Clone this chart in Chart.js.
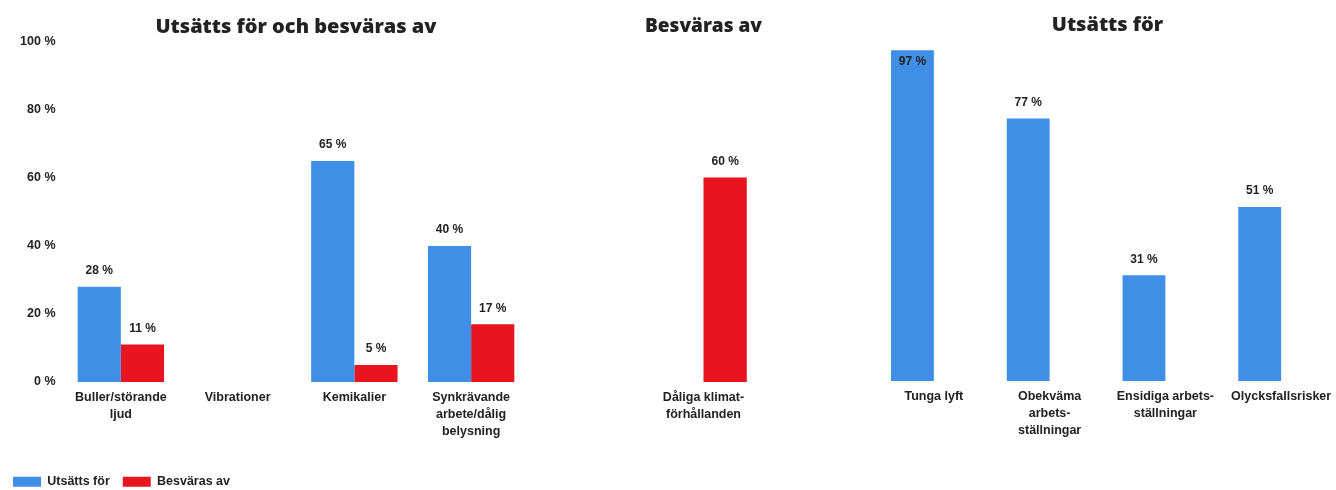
<!DOCTYPE html>
<html lang="sv">
<head>
<meta charset="utf-8">
<script src="https://cdn.jsdelivr.net/npm/chart.js@4"></script>
<style>
  html, body { margin: 0; padding: 0; background: #fff; overflow: hidden; }
  body { position: relative; width: 1336px; height: 490px; }
  canvas { position: absolute; }
  #panelBoth { left: 0; top: 0; }
  #panelBothered { left: 600px; top: -1px; }
  #panelExposed { left: 876px; top: -2px; }
</style>
</head>
<body>
<canvas id="panelBoth" width="592" height="498"></canvas>
<canvas id="panelBothered" width="208" height="490"></canvas>
<canvas id="panelExposed" width="463" height="490"></canvas>
<script>
// serier
const seriesNames = ["Utsätts för", "Besväras av"];
const seriesColors = ["#3f8fe6", "#e8141f"];

// vänster: utsätts för och besväras av
const bothLabels = [["Buller/störande", "ljud"], "Vibrationer", "Kemikalier", ["Synkrävande", "arbete/dålig", "belysning"]];
const bothExposed = [28, null, 65, 40];
const bothBothered = [11, null, 5, 17];

// mitten: bara besväras av
const botheredLabels = [["Dåliga klimat-", "förhållanden"]];
const botheredExposed = [null];
const botheredValues = [60];

// höger: bara utsätts för
const exposedLabels = ["Tunga lyft", ["Obekväma", "arbets-", "ställningar"], ["Ensidiga arbets-", "ställningar"], "Olycksfallsrisker"];
const exposedValues = [97, 77, 31, 51];
const exposedBothered = [null, null, null, null];

const yTicks = [0, 20, 40, 60, 80, 100];

const textColor = "#222";
const labelFont = { family: "'Liberation Sans', Arial, sans-serif", size: 12.5, weight: "bold" };

// skriver "xx %" ovanför varje stapel (inuti om den inte får plats)
const valueLabels = {
    id: 'valueLabels',
    afterDatasetsDraw(chart) {
        const ctx = chart.ctx;
        ctx.save();
        ctx.font = "bold 12px 'Liberation Sans', Arial, sans-serif";
        ctx.fillStyle = textColor;
        ctx.textAlign = 'center';
        ctx.textBaseline = 'middle';
        chart.data.datasets.forEach((ds, i) => {
            chart.getDatasetMeta(i).data.forEach((bar, j) => {
                const v = ds.data[j];
                if (v === null || v === undefined) return;
                let y = bar.y - 16;
                if (y - 7 < chart.chartArea.top) y = bar.y + 11;
                ctx.fillText(v + ' %', bar.x, y);
            });
        });
        ctx.restore();
    }
};

function makePanel(id, title, labels, exposed, bothered, opts) {
    const scales = {
        x: {
            grid: { display: false, drawTicks: false },
            border: { display: false },
            ticks: {
                color: textColor,
                font: Object.assign({ lineHeight: 1.35 }, labelFont),
                padding: 7,
                maxRotation: 0,
                autoSkip: false
            },
            afterFit: (scale) => { scale.height = opts.xHeight; }
        },
        y: {
            display: opts.yAxis,
            min: 0,
            max: 100,
            afterBuildTicks: (scale) => { scale.ticks = yTicks.map(v => ({ value: v })); },
            grid: { display: false, drawTicks: false },
            border: { display: false },
            ticks: {
                color: textColor,
                font: labelFont,
                padding: 7,
                callback: (v) => v + ' %'
            },
            afterFit: (scale) => { if (opts.yAxis) scale.width = 62.5; }
        }
    };
    if (opts.yAxis) {
        // tom axel till höger så att rubriken hamnar mitt över staplarna
        scales.yPad = {
            position: 'right',
            display: false,
            afterFit: (scale) => { scale.width = 62.5; }
        };
    }
    return new Chart(document.getElementById(id), {
        type: 'bar',
        data: {
            labels: labels,
            datasets: [
                { label: seriesNames[0], data: exposed, backgroundColor: seriesColors[0] },
                { label: seriesNames[1], data: bothered, backgroundColor: seriesColors[1] }
            ]
        },
        options: {
            responsive: false,
            animation: false,
            events: [],
            categoryPercentage: 0.74,
            barPercentage: 1.0,
            layout: { padding: opts.padding },
            plugins: {
                title: {
                    display: true,
                    text: title,
                    color: textColor,
                    font: { family: "'Open Sans', Lato, sans-serif", size: 20, weight: 800, lineHeight: 1.2 },
                    padding: { top: 15, bottom: 3 }
                },
                legend: {
                    display: opts.legend,
                    position: 'bottom',
                    align: 'start',
                    labels: {
                        color: textColor,
                        font: labelFont,
                        boxWidth: 28,
                        boxHeight: 10,
                        padding: 13
                    }
                },
                tooltip: { enabled: false }
            },
            scales: scales
        },
        plugins: [valueLabels]
    });
}

makePanel('panelBoth', "Utsätts för och besväras av", bothLabels, bothExposed, bothBothered,
    { legend: true, yAxis: true, xHeight: 80.5, padding: { left: 0, right: 0, top: 0, bottom: 0 } });

makePanel('panelBothered', "Besväras av", botheredLabels, botheredExposed, botheredValues,
    { legend: false, yAxis: false, xHeight: 107, padding: { left: 45, right: 46, top: 0, bottom: 0 } });

makePanel('panelExposed', "Utsätts för", exposedLabels, exposedValues, exposedBothered,
    { legend: false, yAxis: false, xHeight: 107, padding: { left: 0, right: 0, top: 0, bottom: 0 } });
</script>
</body>
</html>
